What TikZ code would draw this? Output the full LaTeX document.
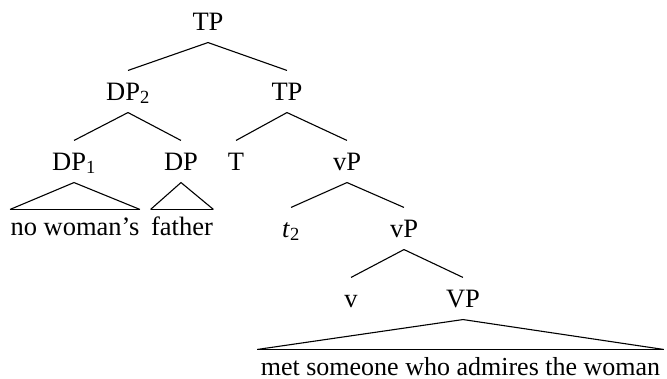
\documentclass[tikz,border=0pt]{standalone}
\usepackage{fontspec}
\setmainfont{Liberation Serif}
\usepackage{tikz}

\begin{document}
\begin{tikzpicture}
  [x=1pt,y=-1pt,line width=1.1pt,
   every node/.style={anchor=base,inner xsep=0pt,inner ysep=12pt,
     text height=17pt,text depth=0pt,font=\fontsize{26.5}{30}\selectfont}]

  \tikzstyle{leaf} = [inner ysep=7pt,text height=18pt]
  \tikzstyle{base} = [line width=1.9pt]

  \useasboundingbox (0,0) rectangle (667,378);

  \node (TP)   at (208,30)  {TP};
  \node (DP2)  at (128,100) {DP\textsubscript{2}};
  \node (TP2)  at (287,100) {TP};
  \node (DP1)  at (74,170)  {DP\textsubscript{1}};
  \node (DP)   at (181,170) {DP};
  \node (T)    at (236,170) {T};
  \node (vP)   at (347,170) {vP};
  \node (t2)   at (291,237) {\textit{t}\textsubscript{2}};
  \node (vP2)  at (404,237) {vP};
  \node (v)    at (351,307) {v};
  \node (VP)   at (463,307) {VP};

  \node[leaf] (nowoman) at (75,235)  {no woman's};
  \node[leaf] (father)  at (182,235) {father};
  \node[leaf,inner xsep=3pt,font=\fontsize{26}{30}\selectfont]
        (met) at (460.5,375) {met someone who admires the woman};

  \path[draw]
        (TP.south)  edge (DP2.north)
        (TP.south)  edge (TP2.north)
        (DP2.south) edge (DP1.north)
        (DP2.south) edge (DP.north)
        (TP2.south) edge (T.north)
        (TP2.south) edge (vP.north)
        (vP.south)  edge (t2.north)
        (vP.south)  edge (vP2.north)
        (vP2.south) edge (v.north)
        (vP2.south) edge (VP.north);

  \draw (nowoman.north west) -- (DP1.south) -- (nowoman.north east);
  \draw (father.north west) -- (DP.south) -- (father.north east);
  \draw (met.north west) -- (VP.south) -- (met.north east);
  \draw[base] (nowoman.north west) -- (nowoman.north east);
  \draw[base] (father.north west) -- (father.north east);
  \draw[base] (met.north west) -- (met.north east);
\end{tikzpicture}
\end{document}
